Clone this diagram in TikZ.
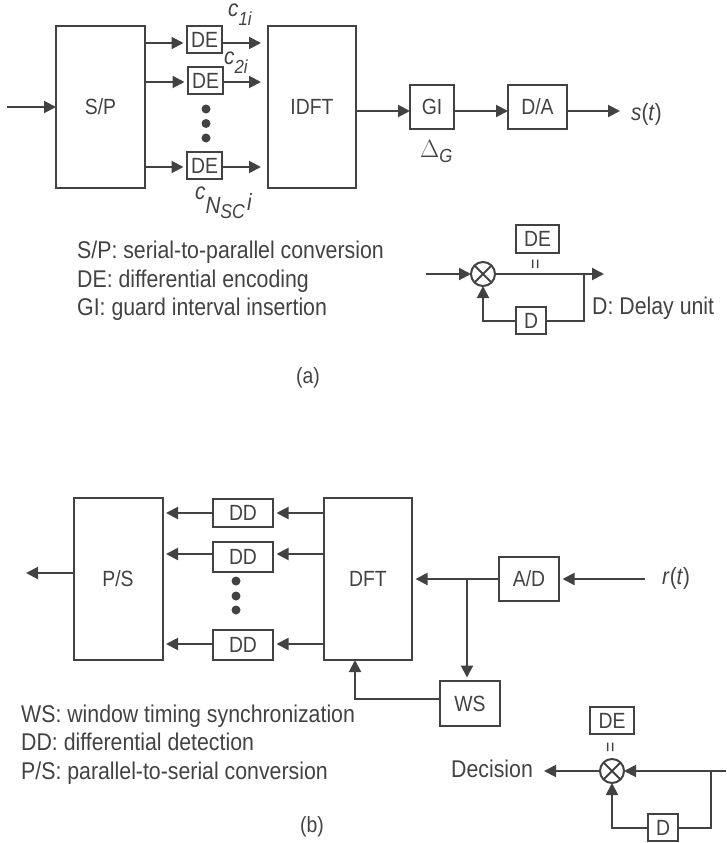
\documentclass[tikz,border=0pt]{standalone}
\usepackage{fontspec}
\setmainfont[FakeStretch=0.88]{Liberation Sans}
\usetikzlibrary{arrows.meta}
\definecolor{inkgray}{RGB}{66,66,66}
\newcommand{\csym}[1]{\textit{c}\raisebox{-9pt}{\fontsize{19}{19}\selectfont\textit{#1}}}
\tikzset{
  every node/.style={text=inkgray,font=\fontsize{22}{26}\selectfont},
  boxnode/.style={draw=inkgray,line width=2pt,inner sep=0pt,outer sep=0pt,minimum width=#1},
  boxnode/.default=60pt,
  deblock/.style={boxnode=35pt,minimum height=27pt,line width=2.5pt},
  wire/.style={draw=inkgray,line width=2pt},
  arr/.style={wire,-{Triangle[length=12pt,width=12pt]}},
  gaparr/.style={arr,shorten >=3.5pt},
  legend/.style={anchor=base west,inner sep=0pt,font=\fontsize{24.2}{28}\selectfont},
  symb/.style={anchor=base west,inner sep=0pt,font=\fontsize{23.5}{28}\selectfont},
  mult/.style={circle,draw=inkgray,line width=2pt,minimum size=24pt,inner sep=0pt,outer sep=0pt,
    path picture={\draw[inkgray,line width=2pt] (path picture bounding box.north west) -- (path picture bounding box.south east)
      (path picture bounding box.north east) -- (path picture bounding box.south west);}},
  eqmark/.style={rotate=90,inner sep=0pt,font=\fontsize{20}{20}\selectfont},
  blob/.style={circle,fill=inkgray,minimum size=9pt,inner sep=0pt}
}
\begin{document}
\begin{tikzpicture}[x=1pt,y=1pt,yscale=-1,xscale=1]
\useasboundingbox (0,0) rectangle (726,843);

% Part (a): main blocks
\node (sp) [boxnode=89pt,minimum height=162pt] at (100.5,107) {S/P};
\node (idft) [boxnode=88pt,minimum height=162pt] at (312,107) {IDFT};
\node (de1) [deblock] at (204.5,39.5) {DE};
\node (de2) [deblock] at (205.5,80.5) {DE};
\node (de3) [deblock] at (204.5,165.5) {DE};
\node (gi) [boxnode=44pt,minimum height=44pt] at (432,107) {GI};
\node (da) [boxnode=59pt,minimum height=44pt] at (537.5,107) {D/A};
\node (dota1) [blob] at (206,109) {};
\node (dota2) [blob] at (206,123.5) {};
\node (dota3) [blob] at (206,138) {};

\coordinate (ain) at (7,107);
\coordinate (aout) at (620,111);
\coordinate (r1) at (0,43);
\coordinate (r2) at (0,82);
\coordinate (r3) at (0,167);
\coordinate (r4) at (0,111);

\draw [arr] (ain) -- (sp.west |- ain);
\foreach \row/\blk in {r1/de1,r2/de2,r3/de3}{
  \draw [gaparr] (sp.east |- \row) -- (\blk.west |- \row);
  \draw [arr,shorten >=7pt] (\blk.east |- \row) -- (idft.west |- \row);
}
\draw [arr] (idft.east |- r4) -- (gi.west |- r4);
\draw [arr] (gi.east |- r4) -- (da.west |- r4);
\draw [arr] (da.east |- r4) -- (aout);

% Labels
\node (c1) [symb] at (228,17) {\csym{1i}};
\node (c2) [symb] at (224,65) {\csym{2i}};
\node (cn) [symb] at (195,199) {\textit{c}\raisebox{-14pt}{\textit{N}\raisebox{-5pt}{\fontsize{20}{20}\selectfont\textit{SC}}}\kern2pt\raisebox{-11pt}{\textit{i}}};
\node (st) [symb] at (631,120) {\textit{s}(\textit{t})};
\node (dg) [symb] at (420,157) {$\Delta$\raisebox{-5pt}{\fontsize{19}{19}\selectfont\textit{G}}};
\node (lega1) [legend] at (77,258) {S/P: serial-to-parallel conversion};
\node (lega2) [legend] at (77,287) {DE: differential encoding};
\node (lega3) [legend] at (77,315) {GI: guard interval insertion};
\node (capa) at (308,378) {(a)};

% Part (a): differential encoder
\node (mula) [mult] at (483,274) {};
\node (dea) [boxnode=43pt,minimum height=28pt] at (537.5,239) {DE};
\node (eqa) [eqmark] at (537,264) {=};
\node (dla) [boxnode=30pt,minimum height=27pt] at (531,320.5) {D};
\node (dlab) [legend] at (592,314) {D: Delay unit};
\coordinate (ain2) at (426,274);
\coordinate (aout2) at (604,274);
\coordinate (abr) at (584,274);
\draw [arr] (ain2) -- (mula.west);
\draw [arr] (mula.east) -- (aout2);
\draw [wire] (abr) |- (dla.east);
\draw [arr] (dla.west) -| (mula.south);

% Part (b): main blocks
\node (ps) [boxnode=89pt,minimum height=162pt] at (118,579) {P/S};
\node (dft) [boxnode=88pt,minimum height=162pt] at (368,579) {DFT};
\node (dd1) [boxnode=60pt,minimum height=28pt] at (243,513) {DD};
\node (dd2) [boxnode=60pt,minimum height=30pt] at (243,557) {DD};
\node (dd3) [boxnode=60pt,minimum height=30pt] at (243,645) {DD};
\node (ad) [boxnode=60pt,minimum height=44pt] at (529,579) {A/D};
\node (ws) [boxnode=60pt,minimum height=45pt] at (470,703.5) {WS};
\node (dotb1) [blob] at (236,581) {};
\node (dotb2) [blob] at (236,596) {};
\node (dotb3) [blob] at (236,610) {};

\coordinate (bin) at (645,579);
\coordinate (bout) at (26,573);
\coordinate (s1) at (0,513);
\coordinate (s2) at (0,554);
\coordinate (s3) at (0,644);
\coordinate (s4) at (0,699);
\coordinate (wtap) at (467,579);
\coordinate (wup) at (355,660);

\draw [arr] (ps.west |- bout) -- (bout);
\foreach \row/\blk in {s1/dd1,s2/dd2,s3/dd3}{
  \draw [gaparr] (dft.west |- \row) -- (\blk.east |- \row);
  \draw [gaparr] (\blk.west |- \row) -- (ps.east |- \row);
}
\draw [gaparr] (bin) -- (ad.east);
\draw [gaparr] (ad.west) -- (dft.east);
\draw [gaparr] (wtap) -- (wtap |- ws.north);
\draw [arr] (ws.west |- s4) -| (wup);

% Labels
\node (rt) [symb] at (662,584) {\textit{r}(\textit{t})};
\node (legb1) [legend] at (21,722) {WS: window timing synchronization};
\node (legb2) [legend] at (21,750) {DD: differential detection};
\node (legb3) [legend] at (21,779) {P/S: parallel-to-serial conversion};
\node (capb) at (312,827) {(b)};

% Part (b): differential detector
\node (mulb) [mult] at (612,771) {};
\node (deb) [boxnode=44pt,minimum height=27pt] at (612,720.5) {DE};
\node (eqb) [eqmark] at (612,747) {=};
\node (dlb) [boxnode=30pt,minimum height=27pt] at (663,827.5) {D};
\node (dec) [legend] at (451,777) {Decision};
\coordinate (bin2) at (726,771);
\coordinate (bbr) at (711,771);
\coordinate (bout2) at (544,771);
\draw [arr] (bin2) -- (mulb.east);
\draw [arr] (mulb.west) -- (bout2);
\draw [wire] (bbr) |- (dlb.east);
\draw [arr] (dlb.west) -| (mulb.south);
\end{tikzpicture}
\end{document}
